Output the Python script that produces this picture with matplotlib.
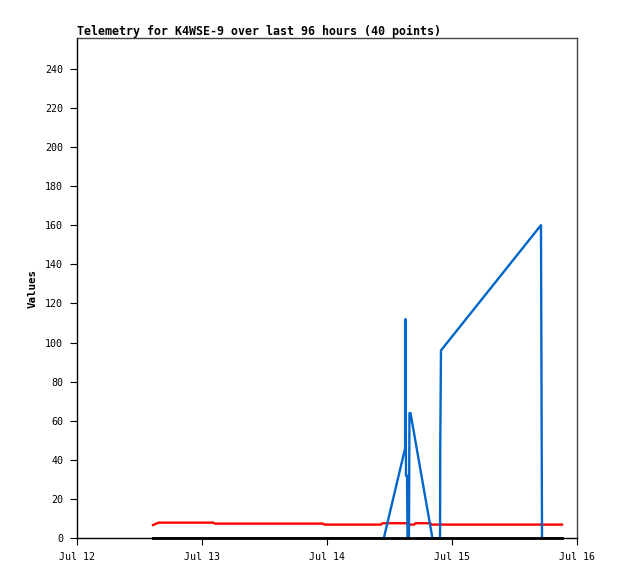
import matplotlib
matplotlib.use("Agg")
import matplotlib.pyplot as plt
import matplotlib.dates as mdates
from datetime import datetime

# telemetry channels (local time, 2023)
red_times = ["07-12 14:36", "07-12 15:40", "07-13 02:10", "07-13 02:30",
             "07-13 23:10", "07-13 23:30", "07-14 10:20", "07-14 10:40",
             "07-14 15:15", "07-14 15:30", "07-14 16:45", "07-14 17:00",
             "07-14 19:50", "07-14 20:05", "07-15 21:07"]
red_vals = [6.8, 8.0, 8.0, 7.5, 7.5, 7.0, 7.0, 7.7,
            7.7, 7.0, 7.0, 7.7, 7.7, 7.0, 7.0]

blue_times = ["07-12 14:36", "07-14 10:54", "07-14 15:00", "07-14 15:04",
              "07-14 15:10", "07-14 15:22", "07-14 15:28", "07-14 15:44",
              "07-14 15:50", "07-14 16:02", "07-14 20:15", "07-14 21:42",
              "07-14 21:45", "07-14 21:53", "07-15 17:05", "07-15 17:11",
              "07-15 17:17", "07-15 21:07"]
blue_vals = [0, 0, 46, 112, 32, 32, 0, 0,
             64, 64, 0, 0, 49, 96, 160, 80, 0, 0]

black_times = ["07-12 14:36", "07-15 21:07"]
black_vals = [0, 0]

yticks = list(range(0, 241, 20))
title = "Telemetry for K4WSE-9 over last 96 hours (40 points)"


def to_dt(lst):
    return [datetime.strptime("2023-" + s, "%Y-%m-%d %H:%M") for s in lst]


mono = "DejaVu Sans Mono"
fig = plt.figure(figsize=(6.18, 5.79), dpi=100)
ax = fig.add_axes([77 / 618, 1 - 538.3 / 579, 500 / 618, 500 / 579])

ax.plot(to_dt(red_times), red_vals, color="#ff0000", lw=1.7, zorder=2)
ax.plot(to_dt(blue_times), blue_vals, color="#0066cc", lw=1.7, zorder=3)
ax.plot(to_dt(black_times), black_vals, color="#000000", lw=2.0, zorder=4,
        clip_on=False)

ax.set_xlim(datetime(2023, 7, 12), datetime(2023, 7, 16))
ax.set_ylim(0, 255.5)
ax.set_yticks(yticks)
ax.xaxis.set_major_locator(mdates.DayLocator())
ax.xaxis.set_major_formatter(mdates.DateFormatter("%b %d"))

ax.tick_params(direction="out", length=5, width=0.8, labelsize=7.2, pad=5)
for lab in ax.get_xticklabels() + ax.get_yticklabels():
    lab.set_fontfamily(mono)

for side in ("left", "bottom"):
    ax.spines[side].set_color("black")
    ax.spines[side].set_linewidth(1.0)
for side in ("top", "right"):
    ax.spines[side].set_color("#444444")
    ax.spines[side].set_linewidth(1.0)

ax.set_title(title, loc="left", fontfamily=mono, fontweight="bold",
             fontsize=8.35, pad=1.5)
ax.set_ylabel("Values", fontfamily=mono, fontweight="bold", fontsize=7.8,
              labelpad=5)

fig.savefig("out.png", dpi=100)
